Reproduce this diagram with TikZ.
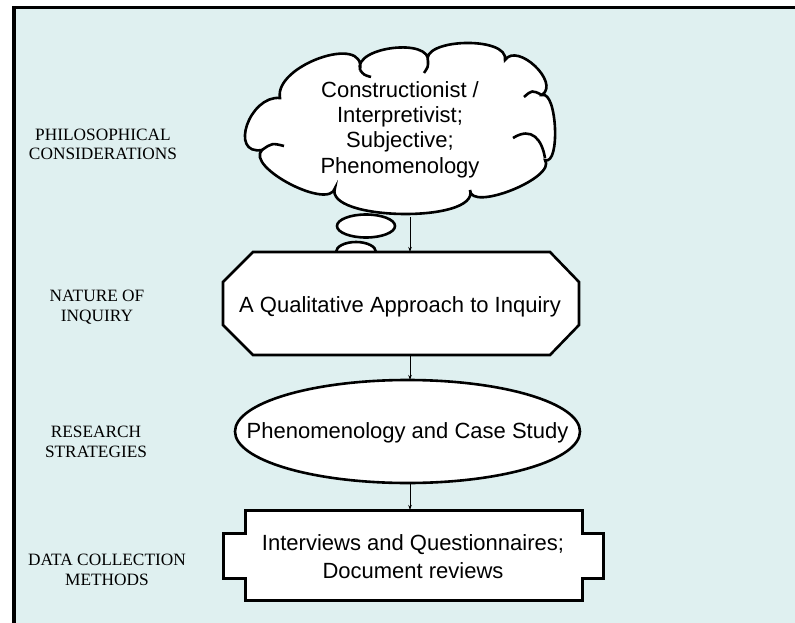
\documentclass[tikz,border=0pt]{standalone}
\usepackage{fontspec}
\setmainfont{Liberation Serif}
\newfontfamily\arialf{Liberation Sans}
\usetikzlibrary{arrows.meta}
\definecolor{bgc}{RGB}{223,240,240}
\begin{document}
\begin{tikzpicture}[x=1pt,y=-1pt,
  fig/.style={draw=black, fill=white, line width=2.6pt, line join=miter},
  tail/.style={draw=black, line width=2.6pt},
  arr/.style={draw=black, line width=0.75pt, -{Stealth[length=5pt,width=3.5pt]}},
  sidelbl/.style={font=\fontsize{17.3}{20}\selectfont, align=center, anchor=base, inner sep=0pt},
  maintxt/.style={font=\arialf\fontsize{22}{25.5}\selectfont, align=center, anchor=base, inner sep=0pt}]
\useasboundingbox (0,0) rectangle (795,623);
\fill[bgc] (12,7) rectangle (795,623);
\draw[line width=3.5pt, line join=miter] (14,623) -- (14,7.5) -- (795,7.5);

% cloud
\draw[fig] (280,98)
 .. controls (273.6,65.5) and (366.4,33.1) .. (360,70)
 .. controls (353.3,46.6) and (432.1,37.4) .. (428,62)
 .. controls (419.8,38.2) and (509.2,35.8) .. (505,60)
 .. controls (517.3,41.9) and (560.3,82.5) .. (542,95)
 .. controls (557.1,90.5) and (560.5,165.9) .. (545,160)
 .. controls (557,177.6) and (470,212.4) .. (470,190)
 .. controls (480.1,223.5) and (323.5,221.1) .. (335,188)
 .. controls (329.5,211) and (244.9,167) .. (262,150)
 .. controls (228.6,155.5) and (249.4,95.1) .. (280,98) -- cycle;
\draw[tail] (371,77) .. controls (364,75) .. (360,70);
\draw[tail] (428,62) .. controls (428,67) .. (424,73);
\draw[tail] (542,95) .. controls (532,90) .. (524,97);
\draw[tail] (513,138) .. controls (532,126) and (542,140) .. (545,158);
\draw[tail] (262,150) .. controls (272,143) .. (284,146);

% thought bubbles
\draw[fig] (366,226) ellipse [x radius=29pt, y radius=11.5pt];
\draw[fig] (356,252) ellipse [x radius=20pt, y radius=10pt];

% octagon
\draw[fig] (253,252) -- (550,252) -- (579,282) -- (579,325) -- (550,355)
  -- (253,355) -- (223,325) -- (223,282) -- cycle;

% ellipse
\draw[fig] (407.5,431.5) ellipse [x radius=172.5pt, y radius=51.5pt];

% box with tabs
\draw[fig, line width=3pt] (245,510) -- (582,510) -- (582,533) -- (603,533) -- (603,578)
  -- (582,578) -- (582,600) -- (245,600) -- (245,578) -- (223,578) -- (223,533)
  -- (245,533) -- cycle;

% texts (base anchor = baseline of the last line)
\node[maintxt] (cloudtxt) at (400,173.5) {Constructionist /\\Interpretivist;\\Subjective;\\Phenomenology};
\node[maintxt] (octtxt) at (400,312) {A Qualitative Approach to Inquiry};
\node[maintxt] (elltxt) at (407.5,438) {Phenomenology and Case Study};
\node[maintxt, font=\arialf\fontsize{22}{28}\selectfont] (boxtxt) at (413,578) {Interviews and Questionnaires;\\Document reviews};

\node[sidelbl] (l1) at (103,160) {PHILOSOPHICAL\\CONSIDERATIONS};
\node[sidelbl] (l2) at (97,321.5) {NATURE OF\\INQUIRY};
\node[sidelbl] (l3) at (96,457) {RESEARCH\\STRATEGIES};
\node[sidelbl] (l4) at (107,585) {DATA COLLECTION\\METHODS};

% connectors
\coordinate (cloudB) at (410,217);
\coordinate (octT) at (410,252);
\coordinate (octB) at (410,355);
\coordinate (ellT) at (410,380);
\coordinate (ellB) at (410,483);
\coordinate (boxT) at (410,510);
\draw[arr] (cloudB) -- (octT);
\draw[arr] (octB) -- (ellT);
\draw[arr] (ellB) -- (boxT);
\end{tikzpicture}
\end{document}
